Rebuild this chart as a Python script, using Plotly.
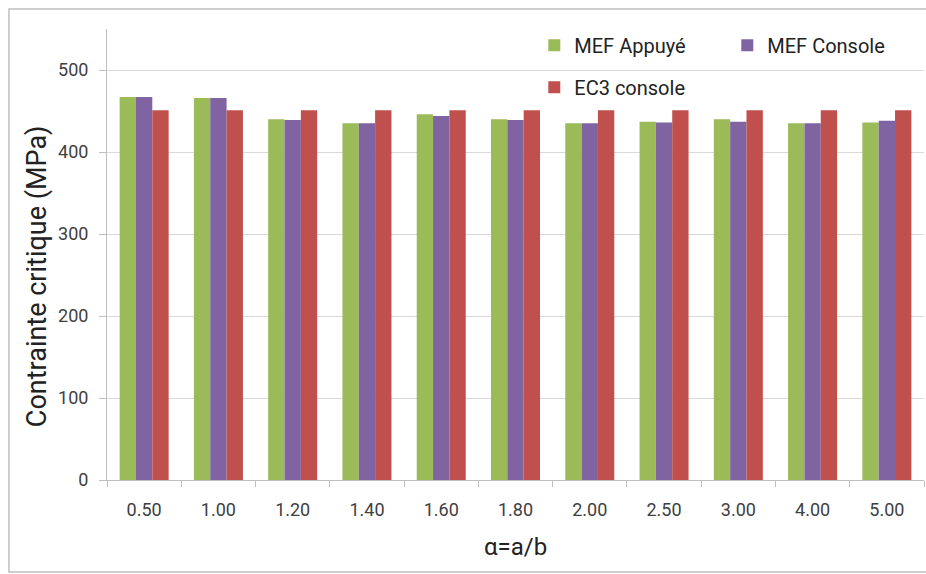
import plotly.graph_objects as go

categories = ["0.50", "1.00", "1.20", "1.40", "1.60", "1.80", "2.00", "2.50", "3.00", "4.00", "5.00"]
mef_appuye = [467, 466, 440, 435, 446, 440, 435, 437, 440, 435, 436]
mef_console = [467, 466, 439, 435, 444, 439, 435, 436, 437, 435, 438]
ec3_console = [451, 451, 451, 451, 451, 451, 451, 451, 451, 451, 451]
y_ticks = [0, 100, 200, 300, 400, 500]
x_title = "α=a/b"
y_title = "Contrainte critique (MPa)"

FONT = "Liberation Sans Narrow, Arial Narrow, Roboto, sans-serif"

fig = go.Figure()
fig.add_trace(go.Bar(x=categories, y=mef_appuye, name="MEF Appuyé",
                     marker=dict(color="#9BBB59", line=dict(width=0)), legend="legend"))
fig.add_trace(go.Bar(x=categories, y=mef_console, name="MEF Console",
                     marker=dict(color="#8064A2", line=dict(width=0)), legend="legend"))
fig.add_trace(go.Bar(x=categories, y=ec3_console, name="EC3 console",
                     marker=dict(color="#C0504D", line=dict(width=0)), legend="legend2"))

leg_common = dict(orientation="h", xanchor="left", yanchor="top", itemwidth=30,
                  font=dict(size=20, color="#222222"), bgcolor="rgba(0,0,0,0)")

fig.update_layout(
    width=926, height=574,
    margin=dict(l=107, r=2, t=29, b=94, autoexpand=False),
    paper_bgcolor="white", plot_bgcolor="white",
    font=dict(family=FONT, size=18, color="#404040"),
    barmode="group", bargap=0.34, bargroupgap=0,
    legend=dict(x=0.523, y=1.007, entrywidth=148, entrywidthmode="pixels", **leg_common),
    legend2=dict(x=0.523, y=0.914, **leg_common),
    xaxis=dict(
        showline=True, linecolor="#bfbfbf", linewidth=1,
        ticks="outside", tickson="boundaries", ticklen=6, tickcolor="#bfbfbf",
        tickfont=dict(size=18, color="#404040"), ticklabelstandoff=13,
        showgrid=False,
    ),
    yaxis=dict(
        range=[0, 550], tickvals=y_ticks,
        showline=True, linecolor="#bfbfbf", linewidth=1,
        ticks="outside", ticklen=7, tickcolor="#bfbfbf",
        tickfont=dict(size=18, color="#404040"), ticklabelstandoff=7,
        showgrid=True, gridcolor="#d9d9d9", gridwidth=1,
        zeroline=False,
    ),
    annotations=[
        dict(text=x_title, xref="paper", yref="paper", x=0.4994, y=-0.1486,
             xanchor="center", yanchor="middle", showarrow=False,
             font=dict(size=24, color="#222222")),
        dict(text=y_title, xref="paper", yref="paper", x=-0.0857, y=0.452,
             xanchor="center", yanchor="middle", showarrow=False, textangle=-90,
             font=dict(size=27, color="#222222")),
    ],
    shapes=[dict(type="rect", xref="paper", yref="paper",
                 x0=-0.12, x1=1.01, y0=-0.204, y1=1.0443,
                 line=dict(color="#bfbfbf", width=1.5), layer="below")],
)

fig.write_html("out.html", config={"displayModeBar": False},
               post_script="document.body.style.margin='0';document.body.style.overflow='hidden';")
